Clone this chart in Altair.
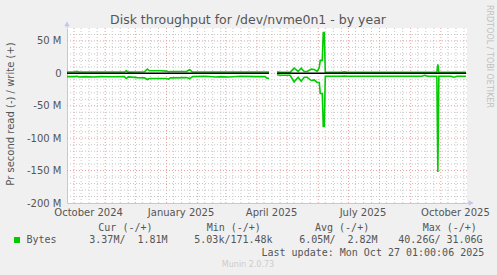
import altair as alt
import pandas as pd

# ---------------- data (values in millions of bytes/s) ----------------
dates = ["2024-09-24", "2024-10-01", "2024-10-04", "2024-10-06", "2024-10-12", "2024-10-20",
         "2024-10-27", "2024-11-08", "2024-11-20", "2024-11-22", "2024-11-24", "2024-12-03",
         "2024-12-10", "2024-12-13", "2024-12-15", "2024-12-26", "2025-01-01", "2025-01-03",
         "2025-01-05", "2025-01-21", "2025-01-24", "2025-01-27", "2025-02-09", "2025-02-19",
         "2025-02-24", "2025-03-04", "2025-03-16", "2025-03-31", "2025-04-09", "2025-04-11",
         "2025-04-13",
         "2025-04-21", "2025-04-24", "2025-05-04", "2025-05-08", "2025-05-12", "2025-05-15",
         "2025-05-18", "2025-05-21", "2025-05-25", "2025-05-28", "2025-05-31", "2025-06-02",
         "2025-06-03", "2025-06-05", "2025-06-06", "2025-06-07", "2025-06-08", "2025-06-24",
         "2025-06-27", "2025-06-30", "2025-08-03", "2025-09-12", "2025-09-15", "2025-09-18",
         "2025-09-27", "2025-09-28", "2025-09-29", "2025-10-11", "2025-10-14", "2025-10-17",
         "2025-10-26"]
write_m = [2.0, 2.0, 3.0, 2.0, 2.0, 2.0,
           2.2, 2.0, 2.0, 4.0, 2.0, 2.2,
           2.5, 6.5, 4.0, 4.0, 3.5, 2.5,
           3.0, 3.0, 5.5, 2.0, 2.0, 2.0,
           2.0, 2.0, 2.0, 2.2, 2.0, 2.0,
           2.0,
           2.5, 1.5, 1.5, 8.0, 3.0, 8.0,
           3.0, 3.0, 6.5, 6.0, 3.0, 9.0,
           20.0, 20.0, 63.0, 63.0, 1.5, 1.5,
           2.5, 1.5, 1.5, 1.5, 1.5, 1.5,
           1.5, 14.0, 1.5, 1.5, 1.5, 1.5,
           1.5]
read_m = [-5.0, -5.0, -4.5, -5.5, -5.0, -5.5,
          -5.0, -5.2, -5.0, -8.0, -5.5, -6.5,
          -7.0, -9.5, -8.0, -8.0, -8.0, -9.0,
          -7.0, -6.5, -8.0, -5.0, -4.5, -5.5,
          -5.0, -5.5, -4.5, -5.0, -5.0, -7.5,
          -7.5,
          -2.0, -3.0, -3.0, -13.0, -6.0, -12.0,
          -6.0, -6.0, -11.0, -10.0, -14.0, -14.0,
          -31.0, -31.0, -82.0, -82.0, -4.5, -4.5,
          -4.0, -4.5, -4.5, -4.5, -3.0, -4.5,
          -4.5, -152.0, -4.5, -4.5, -6.0, -4.5,
          -4.5]
segment = [0] * 31 + [1] * 31

x_label_dates = ["2024-10-15", "2025-01-15", "2025-04-15", "2025-07-15", "2025-10-15"]
y_tick_values = [-200, -150, -100, -50, 0, 50]

legend_header = ["Cur (-/+)", "Min (-/+)", "Avg (-/+)", "Max (-/+)"]
legend_values = ["3.37M/  1.81M", "5.03k/171.48k", "6.05M/  2.82M", "40.26G/ 31.06G"]

# ---------------- build tables ----------------
rows = []
for d, w, r, s in zip(dates, write_m, read_m, segment):
    rows.append({"date": d + "T00:00:00", "seg": s, "series": "write", "v": w * 1e6})
    rows.append({"date": d + "T00:00:00", "seg": s, "series": "read", "v": r * 1e6})
df = pd.DataFrame(rows)
zero_df = pd.DataFrame({"date": [d + "T00:00:00" for d in dates], "seg": segment, "z": 0})

month_starts = pd.date_range("2024-10-01", "2025-10-01", freq="MS")
minor = []
for m in pd.date_range("2024-09-01", "2025-10-01", freq="MS"):
    for day in (8, 16, 24):
        t = m + pd.Timedelta(days=day - 1)
        if pd.Timestamp("2024-09-24") < t < pd.Timestamp("2025-10-27"):
            minor.append(t)
vmaj_df = pd.DataFrame({"d": [t.strftime("%Y-%m-%dT00:00:00") for t in month_starts]})
vmin_df = pd.DataFrame({"d": [t.strftime("%Y-%m-%dT00:00:00") for t in minor]})
hmaj_df = pd.DataFrame({"y": [v * 1e6 for v in (50, 0, -50, -100, -150)]})
hmin_df = pd.DataFrame({"y": [v * 1e6 for v in range(-190, 70, 10) if v % 50 != 0]})

# ---------------- scales / axes ----------------
TXT = "#555555"
AX = "#c4c4ee"
GREEN = "#00cc00"
x_scale = alt.Scale(domain=[alt.DateTime(year=2024, month=9, date=24),
                            alt.DateTime(year=2025, month=10, date=27)])
y_scale = alt.Scale(domain=[-200e6, 70e6], nice=False, zero=False)

x_axis = alt.Axis(values=[alt.DateTime(year=int(s[:4]), month=int(s[5:7]), date=int(s[8:]))
                          for s in x_label_dates],
                  format="%B %Y", title=None, grid=False, ticks=False,
                  domainColor=AX, domainWidth=1, labelFont="DejaVu Sans", labelFontSize=10,
                  labelColor=TXT, labelPadding=4, labelFlush=False, labelOverlap=False)
y_axis = alt.Axis(values=[v * 1e6 for v in y_tick_values],
                  labelExpr="datum.value == 0 ? '0' : (datum.value / 1000000) + ' M'",
                  title=None, grid=False, ticks=False, domainColor=AX, domainWidth=1,
                  labelFont="DejaVu Sans", labelFontSize=10, labelColor=TXT, labelPadding=6)

X = lambda f: alt.X(f, type="temporal", scale=x_scale, axis=x_axis)
Y = lambda f: alt.Y(f, type="quantitative", scale=y_scale, axis=y_axis)

vmin = alt.Chart(vmin_df).mark_rule(color="#c8c8c8", strokeDash=[1, 2], strokeWidth=1).encode(x=X("d"))
vmaj = alt.Chart(vmaj_df).mark_rule(color="#e6a0a0", strokeDash=[1, 2], strokeWidth=1).encode(x=X("d"))
hmin = alt.Chart(hmin_df).mark_rule(color="#c8c8c8", strokeDash=[1, 2], strokeWidth=1).encode(y=Y("y"))
hmaj = alt.Chart(hmaj_df).mark_rule(color="#e6a0a0", strokeDash=[1, 2], strokeWidth=1).encode(y=Y("y"))

lines = alt.Chart(df).mark_line(color=GREEN, strokeWidth=1.6, interpolate="linear").encode(
    x=X("date"), y=Y("v"), detail=["series:N", "seg:N"], order="date:T")
zero = alt.Chart(zero_df).mark_line(color="#000000", strokeWidth=1.5).encode(
    x=X("date"), y=Y("z"), detail="seg:N")


def txt(s, x, y, size=10, font="DejaVu Sans", color=TXT, align="left",
        baseline="alphabetic", angle=0):
    return alt.Chart(alt.Data(values=[{}])).mark_text(
        text=s, font=font, fontSize=size, color=color, align=align,
        baseline=baseline, angle=angle).encode(x=alt.value(x - 67), y=alt.value(y - 28))


def nb(s):
    return s.replace(" ", "\u00a0")


MONO = "DejaVu Sans Mono"
texts = [
    txt("Disk throughput for /dev/nvme0n1 - by year", 248, 24, size=12.5, align="center"),
    txt("Pr second read (-) / write (+)", 11, 114, size=10, align="center",
        baseline="middle", angle=270),
    txt("RRDTOOL / TOBI OETIKER", 488.5, 5, size=8, color="#c0c0c0", baseline="middle", angle=90),
    txt("Munin 2.0.73", 248, 266.5, size=8, color="#cccccc", align="center"),
    txt("Bytes", 26.5, 243, font=MONO),
    txt(nb("Last update: Mon Oct 27 01:00:06 2025"), 261.5, 255.5, font=MONO),
]
for s, x0 in zip(legend_header, [98.3, 206.7, 315, 422.7]):
    texts.append(txt(nb(s), x0, 230.5, font=MONO))
for s, x0 in zip(legend_values, [89.3, 194.3, 299.3, 398.3]):
    texts.append(txt(nb(s), x0, 243, font=MONO))

square = alt.Chart(alt.Data(values=[{}])).mark_square(color=GREEN, size=36, opacity=1).encode(
    x=alt.value(17 - 67), y=alt.value(240 - 28))
arrow_up = alt.Chart(alt.Data(values=[{}])).mark_point(
    shape="triangle-up", filled=True, color=AX, size=30, opacity=1).encode(
    x=alt.value(0), y=alt.value(-4))
arrow_right = alt.Chart(alt.Data(values=[{}])).mark_point(
    shape="triangle-right", filled=True, color=AX, size=30, opacity=1).encode(
    x=alt.value(404), y=alt.value(175))
ax_ext = alt.Chart(alt.Data(values=[{}])).mark_rule(color=AX).encode(
    x=alt.value(0), y=alt.value(-6), y2=alt.value(0))
ax_ext2 = alt.Chart(alt.Data(values=[{}])).mark_rule(color=AX).encode(
    x=alt.value(400), x2=alt.value(406), y=alt.value(175))

chart = alt.layer(vmin, vmaj, hmin, hmaj, lines, zero, square, arrow_up, arrow_right,
                  ax_ext, ax_ext2, *texts).properties(
    width=400, height=175,
    autosize=alt.AutoSizeParams(type="none"),
    padding={"left": 67, "top": 28, "right": 30, "bottom": 72},
    background="#f0f0f0",
).configure_view(fill="white", stroke=None)

chart.save("out.html", embed_options={"renderer": "svg", "actions": False})
